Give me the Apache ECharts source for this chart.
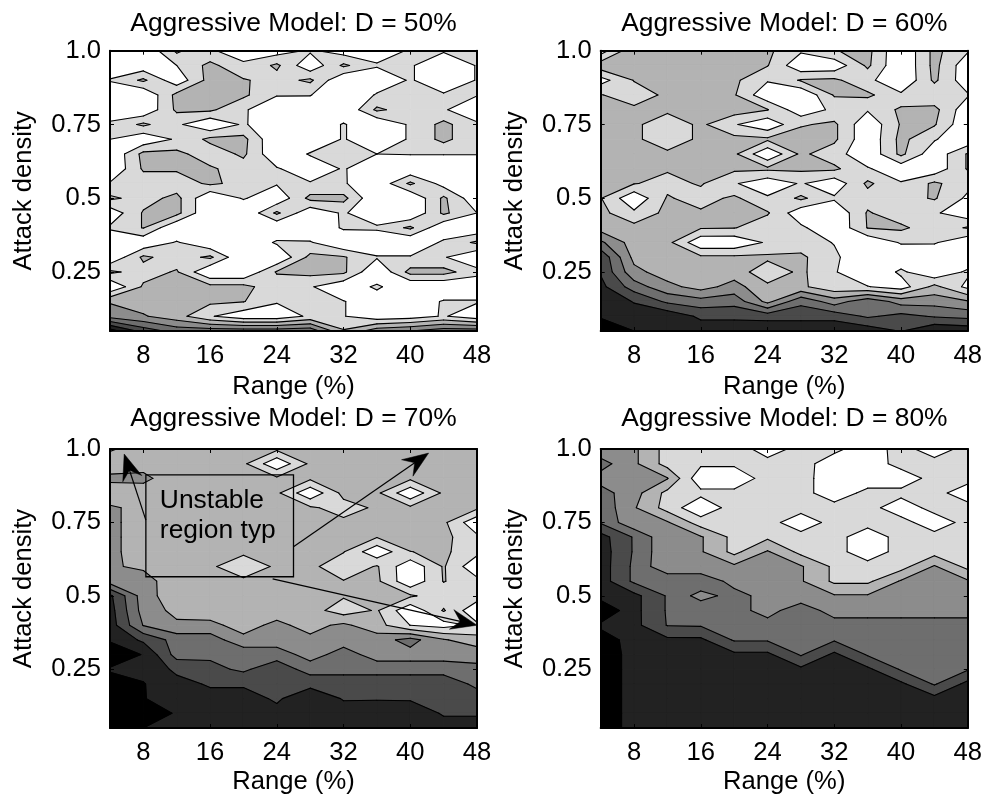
<!DOCTYPE html>
<html><head><meta charset="utf-8">
<style>html,body{margin:0;padding:0;background:#fff}#c{width:985px;height:800px}</style>
<script src="https://cdn.jsdelivr.net/npm/echarts@6/dist/echarts.min.js"></script>
</head><body><div id="c"></div>
<script>
const rangeValues=[4,8,12,16,20,24,28,32,36,40,44,48];
const densityValues=[1.0,.95,.9,.85,.8,.75,.7,.65,.6,.55,.5,.45,.4,.35,.3,.25,.2,.15,.1,.05];
const xTicks=[8,16,24,32,40,48];
const yTicks=[.25,.5,.75,1.0];
const titles=['Aggressive Model: D = 50%','Aggressive Model: D = 60%','Aggressive Model: D = 70%','Aggressive Model: D = 80%'];
const levels=[1,2,3,4,5,6,7];
const levelColors=['#d9d9d9','#b3b3b3','#8c8c8c','#6e6e6e','#4a4a4a','#222222','#000000'];
const d50=[
[.2,0,2.2,1.1,.6,.5,1.15,.5,.5,1.1,1.1,1.5],
[.5,.3,1.0,2.3,1.15,2.2,.2,2.2,1.1,1.1,.3,1.05],
[1.05,2.2,.3,2.4,2.1,1.6,2.2,0,.3,1.1,.3,1.05],
[.5,0,2.3,2.6,2.2,1.05,1.05,0,1.1,1.5,1.1,1.05],
[.3,.1,2.2,2.2,1.1,.4,.2,0,2.2,1.5,1.1,.3],
[1.2,2.2,1.2,.1,1.15,0,0,1.1,0,1.15,2.3,1.15],
[1.0,.2,1.15,2.24,2.3,0,0,1.1,0,1.15,2.3,1.15],
[0,2.3,2.3,1.4,2.2,.1,1.1,1.5,1.0,1.05,1.05,1.05],
[0,2.15,2.15,2.15,1.5,1.1,.3,1.1,.1,.1,.1,.1],
[1.1,1.4,1.4,2.2,1.65,1.1,1.1,1.1,.2,2.2,.6,.2],
[2.2,1.6,2.3,0,1.1,.2,2.3,2.3,0,0,2.2,.2],
[.3,2.1,2.3,0,0,2.2,.2,1.15,0,0,2.2,1.0],
[1.15,2.05,0,0,0,0,0,1.15,1.2,2.2,.1,.1],
[.1,.2,1.1,.1,0,1.15,1.1,0,0,0,1.2,2.2],
[.1,2.2,1.5,2.2,0,0,2.3,2.1,1.1,1.1,1.1,0],
[2.2,1.6,2.1,0,0,2.1,2.3,2.2,0,2.35,2.35,1.4],
[0,2.15,2.6,2.3,2.3,1.4,1.1,.2,1.2,0,0,0],
[2.9,2.5,2.4,2.2,2.05,1.1,1.5,1.05,.3,.3,1.1,1.1],
[3.6,3.1,2.4,1.1,.3,.3,1.2,1.05,.3,.5,1.1,.3],
[7.5,5.6,4.6,4.6,4.6,4.6,4.7,2.1,3.6,4,4.6,4.6]];
const d60=[
[.5,2.8,2.6,2.6,2.5,2.2,1.15,1.95,2.3,0,2.3,1.1],
[2.6,2.8,2.7,2.7,2.5,2.05,.2,.3,2.2,0,2.3,.3],
[.6,2.05,2.8,2.8,2.2,1.1,2.1,2.2,1.3,0,2.2,.3],
[2.05,1.5,2.2,2.6,2.1,.2,0,2.1,2.2,1.2,1.2,1.1],
[2.6,2.2,2.2,2.7,2.5,2.05,.3,1.25,1.1,2.2,2.3,.3],
[2.6,2.2,1.4,2.2,1.1,.2,1.9,2.2,.2,2.1,2.1,.1],
[2.6,2.2,1.4,2.2,2.3,2.2,2.5,2.2,.2,2.3,1.1,.1],
[2.6,2.6,2.2,2.6,2.2,.1,2.2,1.45,.2,2.25,.3,2.1],
[2.5,2.6,2.1,2.4,2.2,2.2,2.2,2.2,1.1,.3,.3,2.1],
[2.1,2.05,1.7,2.1,1.1,.3,1.1,.3,2.2,1.1,2.2,1.3],
[2.05,.2,2.1,1.6,2.2,1.15,2.2,1.15,1.6,1.6,2.1,.8],
[2.3,1.2,2.3,2.15,2.2,2.1,.3,.1,2.1,1.4,1.15,.3],
[2.55,2.35,2.6,2.1,2.05,1.4,1.2,.1,2.05,2.2,1.4,2.1],
[4.2,2.5,2.3,.2,.2,1.15,1.5,.95,.1,1.1,1.1,.2],
[5.8,2.7,2.3,2.2,2.2,2.2,2.2,1.2,.1,.2,.1,.1],
[5.9,3.3,2.5,2.5,2.5,1.4,2.2,1.1,0,1.2,.1,1.2],
[6.3,4.5,3.3,2.6,3.4,2.2,2.2,1.3,1.05,.5,2.3,.7],
[6.6,5.95,4.8,4.4,4.6,2.7,4.75,3.5,4.7,3.6,3.6,3.1],
[6.9,6.4,6.7,5.8,5.8,5.6,5.6,5.6,4.85,5.3,4.9,4.7],
[7.6,7.0,6.95,6.6,6.6,6.9,6.9,6.9,6.6,5.95,6.9,6.7]];
const d70=[
[1.9,2.4,2.5,2.5,2.5,2.2,2.5,2.6,2.6,2.6,2.6,2.6],
[2.5,2.7,2.7,2.7,2.2,.2,2.2,2.6,2.6,2.6,2.6,2.6],
[3.2,3.2,2.5,2.6,2.6,2.2,2.2,2.6,2.6,2.2,2.6,2.6],
[2.5,2.6,2.6,2.6,2.6,2.2,.2,2.3,2.2,.2,2.2,2.6],
[3.1,2.8,2.6,2.6,2.6,2.6,2.15,1.6,2.15,2.2,2.6,2.2],
[3.1,2.8,2.6,2.6,2.6,2.6,2.5,2.2,2.5,2.6,2.2,.2],
[3.1,2.8,2.6,2.6,2.6,2.6,2.6,2.4,2.05,2.5,2.3,1.2],
[3.1,2.8,2.6,2.6,2.25,2.6,2.6,2.05,.2,1.98,2.2,1.3],
[3.1,2.85,2.6,2.2,1.2,2.2,2.3,1.2,2.1,.2,2.1,.2],
[3.5,3.4,2.4,2.6,2.25,2.3,2.5,2.05,2.2,.2,2.05,1.3],
[6.2,3.5,2.3,2.6,2.6,2.6,2.6,2.1,2.1,2.15,1.4,1.5],
[6.4,3.6,2.7,2.6,2.6,2.6,2.4,1.5,2.1,.2,2.1,.2],
[6.5,3.95,3.2,3.2,2.7,3.2,2.7,3.2,2.4,.98,.6,1.2],
[6.9,5.8,4.6,4.6,3.2,3.5,3.2,3.6,3.5,4.4,3.1,2.4],
[7.6,6.95,4.6,4.8,4.8,4.5,3.6,4.4,3.6,3.6,3.6,3.7],
[6.9,6.7,5.8,5.3,4.8,5.7,4.5,4.5,4.5,4.5,4.5,4.2],
[7.4,7.05,6.3,5.9,5.9,5.8,5.8,5.8,5.8,5.8,5.8,4.7],
[7.4,7.05,6.5,6.3,6.3,5.9,6.5,5.95,5.95,5.95,5.85,5.6],
[8,7.6,6.9,6.6,6.6,6.2,6.6,6.3,6.4,6.3,5.95,5.95],
[8,7,6.9,6.9,6.9,6.9,6.9,6.9,6.9,6.9,6.2,6.2]];
const d80=[
[3.3,3.2,1.6,1.5,1.8,.3,1.5,1.3,.3,1.5,.3,1.5],
[4.4,3.2,1.6,1.2,1.2,1.5,1.5,.3,.2,1.5,1.5,1.5],
[3.6,3.5,3.05,.2,.2,1.5,1.5,.2,.2,.2,1.5,1.5],
[4.4,3.4,1.7,1.3,1.3,1.5,1.5,.2,1.4,1.4,1.5,.2],
[4.7,3.1,1.6,.2,1.5,1.5,1.5,1.5,1.5,.2,1.5,1.5],
[4.9,3.2,3.1,1.5,1.5,1.5,.2,1.5,1.5,1.5,.2,1.5],
[6.4,4.9,3.2,3.1,1.7,1.8,1.5,1.5,.2,1.5,1.5,1.5],
[6.5,4.9,3.2,3.1,1.7,3.1,1.7,1.5,.2,1.5,1.6,1.5],
[6.5,4.8,3.2,3.2,3.2,3.3,3.1,1.8,1.5,1.6,3.1,1.7],
[6.5,4.8,4.8,4.8,3.6,3.2,3.1,1.8,1.8,3.1,3.2,3.1],
[6.6,6.3,4.9,3.6,4.4,3.6,3.2,3.1,3.1,3.2,3.3,3.3],
[7.9,6.3,4.9,4.8,4.5,3.5,4.8,3.4,3.4,3.4,3.4,3.4],
[6.8,6.3,4.95,4.9,4.6,4.5,4.6,4.6,4.6,4.6,4.6,4.6],
[7.5,6.6,6.2,6.2,4.9,4.9,4.7,4.9,4.7,4.7,4.7,4.7],
[8,6.4,6.5,6.5,6.2,6.2,4.9,6.2,4.9,4.7,4.7,4.8],
[8,6.4,6.5,6.5,6.5,6.5,6.2,6.5,6.2,4.9,4.8,4.9],
[8,6.4,6.5,6.5,6.5,6.5,6.5,6.5,6.5,6.2,4.9,6.3],
[8,6.4,6.5,6.5,6.5,6.5,6.5,6.5,6.5,6.5,6.3,6.5],
[8,6.4,6.5,6.5,6.5,6.5,6.5,6.5,6.5,6.5,6.5,6.5],
[8,6.4,6.5,6.5,6.5,6.5,6.5,6.5,6.5,6.5,6.5,6.5]];
const panels=[d50,d60,d70,d80];
const annotationText='Unstable\nregion typ';
const annotationBox=[8.3,.912,26,.565];
const annotationArrows=[[8.3,.758,5.7,.983],[26,.667,42.2,.986],[23.5,.558,48,.4]];

const FONT='"Liberation Sans",Arial,sans-serif', FS=25.6, TFS=26.4;
const lay=[{l:110,r:477,t:50.7,b:331,tt:-45,ng:56},{l:600.7,r:968,t:50.7,b:331,tt:-45,ng:56},{l:110,r:477,t:449,b:728,tt:-48,ng:54},{l:600.7,r:968,t:449,b:728,tt:-48,ng:54}];

function lerp(a,b,t){const f=(t-a.v)/(b.v-a.v);return [a.p[0]+f*(b.p[0]-a.p[0]),a.p[1]+f*(b.p[1]-a.p[1])];}
function cellBand(c,t){
  const hi=c.map(q=>q.v>=t), n=hi.filter(Boolean).length;
  if(n===0) return {polys:[],segs:[]};
  if(n===4) return {polys:[c.map(q=>q.p)],segs:[]};
  const saddle=n===2&&hi[0]===hi[2];
  const mean=(c[0].v+c[1].v+c[2].v+c[3].v)/4;
  const ev=[];
  for(let i=0;i<4;i++){const j=(i+1)%4;if(hi[i]!==hi[j])ev.push({i,pt:lerp(c[i],c[j],t),exit:hi[i]});}
  const segs=[],polys=[];
  if(saddle&&mean<t){
    for(let i=0;i<4;i++) if(hi[i]){
      const a=lerp(c[i],c[(i+3)%4],t),b=lerp(c[i],c[(i+1)%4],t);
      polys.push([a,c[i].p,b]);segs.push([a,b]);
    }
    return {polys,segs};
  }
  const poly=[];
  for(let i=0;i<4;i++){const j=(i+1)%4;
    if(hi[i])poly.push(c[i].p);
    if(hi[i]!==hi[j])poly.push(lerp(c[i],c[j],t));
  }
  polys.push(poly);
  ev.forEach((e,k)=>{if(e.exit){const nx=ev[(k+1)%ev.length];segs.push([e.pt,nx.pt]);}});
  return {polys,segs};
}
function cellCorners(api){
  const c=[[api.value(0),api.value(1),api.value(4)],[api.value(2),api.value(1),api.value(5)],
           [api.value(2),api.value(3),api.value(6)],[api.value(0),api.value(3),api.value(7)]];
  return c.map(q=>({p:api.coord([q[0],q[1]]),v:q[2]}));
}
const renderFill=li=>(params,api)=>{
  const col=levelColors[li];
  return {type:'group',children:cellBand(cellCorners(api),levels[li]).polys.map(p=>({type:'polygon',silent:true,shape:{points:p},
    style:{fill:col,stroke:col,lineWidth:.7}}))};
};
function renderLine(params,api){
  const c=cellCorners(api),children=[];
  levels.forEach(t=>{cellBand(c,t).segs.forEach(s=>children.push({type:'line',silent:true,
    shape:{x1:s[0][0],y1:s[0][1],x2:s[1][0],y2:s[1][1]},style:{stroke:'#000',lineWidth:1.1,lineCap:'round'}}));});
  return {type:'group',children};
}
function renderNote(params,api){
  const a=api.coord([annotationBox[0],annotationBox[1]]),b=api.coord([annotationBox[2],annotationBox[3]]);
  const ch=[{type:'rect',shape:{x:a[0],y:a[1],width:b[0]-a[0],height:b[1]-a[1]},style:{fill:'none',stroke:'#000',lineWidth:1.3}},
    {type:'text',x:a[0]+14,y:a[1]+11,style:{text:annotationText,fill:'#000',font:TFS+'px '+FONT,lineHeight:30,textAlign:'left',textVerticalAlign:'top'}}];
  annotationArrows.forEach(r=>{
    const s=api.coord([r[0],r[1]]),e=api.coord([r[2],r[3]]);
    const dx=e[0]-s[0],dy=e[1]-s[1],L=Math.hypot(dx,dy),ux=dx/L,uy=dy/L,nx=-uy,ny=ux;
    const pt=(back,side)=>[e[0]-ux*back+nx*side,e[1]-uy*back+ny*side];
    ch.push({type:'line',shape:{x1:s[0],y1:s[1],x2:pt(16,0)[0],y2:pt(16,0)[1]},style:{stroke:'#000',lineWidth:1.2}});
    ch.push({type:'polygon',shape:{points:[e,pt(26,10),pt(17,0),pt(26,-10)]},style:{fill:'#000',stroke:'#000',lineWidth:.5}});
  });
  return {type:'group',children:ch};
}
function cellsOf(m){
  const out=[];
  for(let r=0;r<densityValues.length-1;r++)for(let i=0;i<rangeValues.length-1;i++)
    out.push([rangeValues[i],densityValues[r],rangeValues[i+1],densityValues[r+1],m[r][i],m[r][i+1],m[r+1][i+1],m[r+1][i]]);
  return out;
}
const tickStyle={show:true,inside:true,length:4,lineStyle:{color:'#000',width:1}};
const lineStyle={show:true,onZero:false,lineStyle:{color:'#000',width:2}};
const grid=[],xAxis=[],yAxis=[],series=[],title=[];
panels.forEach((m,k)=>{
  const g=lay[k];
  grid.push({left:g.l,top:g.t,width:g.r-g.l,height:g.b-g.t,show:true,backgroundColor:'#fff',borderWidth:0,containLabel:false});
  const xa={type:'value',gridIndex:k,min:4,max:48,splitLine:{show:false},axisLine:lineStyle,z:10};
  const ya={type:'value',gridIndex:k,min:.05,max:1,splitLine:{show:false},axisLine:lineStyle,z:10};
  xAxis.push({...xa,position:'bottom',name:'Range (%)',nameLocation:'middle',nameGap:g.ng,
    nameTextStyle:{fontFamily:FONT,fontSize:FS,color:'#000',verticalAlign:'middle'},
    axisTick:{...tickStyle,customValues:xTicks},
    axisLabel:{customValues:xTicks,fontFamily:FONT,fontSize:FS,color:'#000',margin:12,hideOverlap:false,showMinLabel:true,showMaxLabel:true}});
  xAxis.push({...xa,position:'top',axisTick:{...tickStyle,customValues:xTicks},axisLabel:{show:false}});
  yAxis.push({...ya,position:'left',name:'Attack density',nameLocation:'middle',nameGap:86,nameRotate:90,
    nameTextStyle:{fontFamily:FONT,fontSize:FS,color:'#000',verticalAlign:'middle'},
    axisTick:{...tickStyle,customValues:yTicks},
    axisLabel:{customValues:yTicks,fontFamily:FONT,fontSize:FS,color:'#000',margin:9,
      formatter:v=>v===1?'1.0':String(v)}});
  yAxis.push({...ya,position:'right',axisTick:{...tickStyle,customValues:yTicks},axisLabel:{show:false}});
  const xi=k*2,yi=k*2;
  const data=cellsOf(m);
  levels.forEach((t,li)=>series.push({type:'custom',xAxisIndex:xi,yAxisIndex:yi,data,renderItem:renderFill(li),encode:{x:0,y:1},clip:true,silent:true,animation:false,z:1+li*0.1}));
  series.push({type:'custom',xAxisIndex:xi,yAxisIndex:yi,data,renderItem:renderLine,encode:{x:0,y:1},clip:true,silent:true,animation:false,z:2});
  title.push({text:titles[k],left:(g.l+g.r)/2-5,top:g.t+g.tt,textAlign:'center',textStyle:{fontFamily:FONT,fontSize:TFS,fontWeight:'normal',color:'#000',lineHeight:26}});
  if(k===2) series.push({type:'custom',xAxisIndex:xi,yAxisIndex:yi,data:[[annotationBox[0],annotationBox[1]]],renderItem:renderNote,encode:{x:0,y:1},clip:false,silent:true,animation:false,z:5});
});
const chart=echarts.init(document.getElementById('c'),null,{renderer:'canvas',width:985,height:800});
chart.setOption({animation:false,backgroundColor:'#fff',title,grid,xAxis,yAxis,series,tooltip:{show:false}});
</script></body></html>
